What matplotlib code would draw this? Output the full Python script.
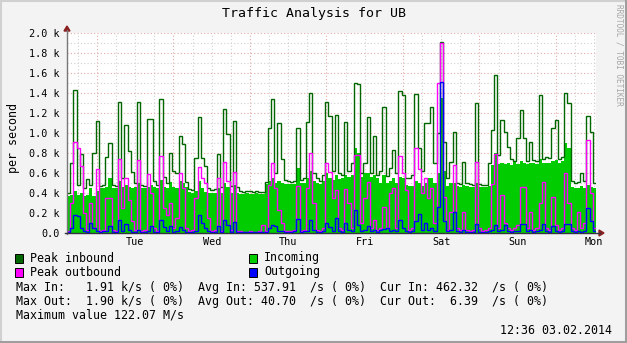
import matplotlib
matplotlib.use("Agg")
import matplotlib.pyplot as plt
import numpy as np
from matplotlib.patches import Rectangle, Polygon
from matplotlib.lines import Line2D

# ---------------------------------------------------------------------------
# Hourly samples (k/s), one week ending Monday 03.02.2014 12:36
# ---------------------------------------------------------------------------
peak_in = [
    0.40, 0.70, 1.43, 0.48, 0.79, 0.45, 0.54, 0.48, 0.80, 1.12,
    0.47, 0.48, 0.76, 0.90, 0.48, 0.47, 1.31, 0.55, 1.08, 0.82,
    0.61, 0.50, 1.31, 0.48, 0.47, 1.14, 1.14, 0.52, 0.48, 1.34,
    0.56, 0.50, 0.80, 0.62, 0.60, 0.97, 0.89, 0.51, 0.44, 0.43,
    0.75, 1.16, 0.75, 0.67, 0.45, 0.43, 0.44, 0.79, 0.46, 1.24,
    0.99, 0.47, 1.12, 0.46, 0.42, 0.41, 0.42, 0.42, 0.41, 0.42,
    0.41, 0.41, 0.51, 1.05, 1.34, 0.60, 1.10, 0.74, 0.53, 0.52,
    0.51, 0.52, 1.05, 0.53, 0.55, 1.11, 1.40, 0.60, 0.55, 0.52,
    0.58, 1.31, 1.17, 0.62, 1.18, 0.60, 0.58, 1.11, 0.62, 0.70,
    1.50, 1.49, 0.60, 0.70, 1.16, 0.60, 0.97, 0.58, 0.62, 1.26,
    0.57, 0.65, 0.83, 0.60, 1.42, 1.38, 0.55, 0.55, 0.58, 1.39,
    0.85, 0.62, 1.10, 1.10, 1.26, 0.70, 1.00, 1.91, 0.91, 0.55,
    0.71, 1.01, 0.50, 0.49, 0.71, 0.50, 0.49, 0.48, 1.30, 0.49,
    0.48, 0.48, 0.70, 1.03, 1.58, 0.78, 1.13, 1.01, 0.86, 0.74,
    0.72, 0.95, 1.23, 0.95, 0.72, 0.91, 0.73, 0.72, 1.38, 0.74,
    0.76, 0.75, 1.05, 1.13, 0.74, 0.76, 1.40, 1.30, 0.52, 0.50,
    0.51, 0.60, 0.52, 1.17, 1.01, 0.50,
]

incoming = [
    0.37, 0.38, 0.42, 0.38, 0.40, 0.37, 0.38, 0.45, 0.37, 0.42,
    0.45, 0.45, 0.46, 0.55, 0.45, 0.45, 0.52, 0.46, 0.48, 0.46,
    0.45, 0.46, 0.50, 0.45, 0.45, 0.46, 0.48, 0.46, 0.45, 0.53,
    0.46, 0.45, 0.51, 0.46, 0.45, 0.52, 0.50, 0.46, 0.41, 0.40,
    0.42, 0.52, 0.45, 0.41, 0.40, 0.40, 0.40, 0.45, 0.40, 0.50,
    0.46, 0.40, 0.48, 0.40, 0.39, 0.39, 0.40, 0.39, 0.39, 0.40,
    0.39, 0.39, 0.49, 0.52, 0.55, 0.50, 0.52, 0.50, 0.49, 0.49,
    0.49, 0.49, 0.65, 0.50, 0.50, 0.55, 0.62, 0.52, 0.50, 0.49,
    0.52, 0.60, 0.55, 0.53, 0.58, 0.54, 0.55, 0.58, 0.56, 0.58,
    0.85, 0.80, 0.56, 0.60, 0.60, 0.56, 0.58, 0.55, 0.50, 0.58,
    0.50, 0.52, 0.55, 0.50, 0.56, 0.55, 0.48, 0.47, 0.47, 0.52,
    0.50, 0.47, 0.50, 0.55, 0.55, 0.50, 0.60, 1.35, 0.62, 0.47,
    0.50, 0.50, 0.47, 0.46, 0.48, 0.47, 0.46, 0.46, 0.50, 0.46,
    0.46, 0.46, 0.47, 0.68, 0.80, 0.69, 0.70, 0.69, 0.70, 0.68,
    0.72, 0.69, 0.72, 0.70, 0.69, 0.70, 0.70, 0.69, 0.74, 0.70,
    0.70, 0.70, 0.72, 0.73, 0.70, 0.72, 0.90, 0.85, 0.46, 0.45,
    0.45, 0.47, 0.45, 0.48, 0.46, 0.45,
]

peak_out = [
    0.02, 0.30, 0.91, 0.85, 0.67, 0.20, 0.03, 0.30, 0.05, 0.64,
    0.02, 0.03, 0.35, 0.35, 0.03, 0.02, 0.74, 0.25, 0.55, 0.33,
    0.12, 0.03, 0.73, 0.02, 0.03, 0.59, 0.40, 0.05, 0.02, 0.77,
    0.25, 0.18, 0.30, 0.05, 0.15, 0.60, 0.45, 0.05, 0.02, 0.03,
    0.35, 0.66, 0.55, 0.50, 0.15, 0.02, 0.03, 0.55, 0.02, 0.71,
    0.52, 0.03, 0.61, 0.02, 0.02, 0.01, 0.01, 0.02, 0.01, 0.01,
    0.02, 0.08, 0.02, 0.48, 0.70, 0.45, 0.23, 0.10, 0.02, 0.02,
    0.02, 0.03, 0.47, 0.02, 0.03, 0.45, 0.80, 0.30, 0.03, 0.02,
    0.05, 0.70, 0.61, 0.35, 0.43, 0.05, 0.03, 0.44, 0.30, 0.05,
    0.78, 0.78, 0.10, 0.35, 0.51, 0.05, 0.13, 0.03, 0.05, 0.26,
    0.05, 0.40, 0.45, 0.05, 0.77, 0.60, 0.43, 0.03, 0.05, 0.85,
    0.64, 0.40, 0.55, 0.35, 0.45, 0.10, 1.50, 1.90, 0.36, 0.03,
    0.21, 0.68, 0.05, 0.03, 0.21, 0.03, 0.02, 0.03, 0.71, 0.05,
    0.02, 0.03, 0.05, 0.49, 0.79, 0.05, 0.38, 0.10, 0.05, 0.03,
    0.05, 0.08, 0.46, 0.46, 0.05, 0.21, 0.03, 0.05, 0.30, 0.51,
    0.05, 0.03, 0.36, 0.08, 0.03, 0.05, 0.60, 0.30, 0.05, 0.03,
    0.21, 0.05, 0.10, 0.93, 0.40, 0.05,
]

outgoing = [
    0.01, 0.05, 0.18, 0.17, 0.05, 0.02, 0.01, 0.10, 0.05, 0.02,
    0.01, 0.02, 0.02, 0.07, 0.01, 0.01, 0.13, 0.02, 0.09, 0.03,
    0.01, 0.01, 0.03, 0.01, 0.01, 0.02, 0.07, 0.01, 0.01, 0.13,
    0.06, 0.02, 0.07, 0.01, 0.02, 0.06, 0.03, 0.01, 0.01, 0.01,
    0.02, 0.18, 0.10, 0.05, 0.02, 0.01, 0.01, 0.07, 0.01, 0.13,
    0.08, 0.01, 0.11, 0.01, 0.01, 0.01, 0.01, 0.01, 0.01, 0.01,
    0.01, 0.01, 0.01, 0.05, 0.08, 0.07, 0.02, 0.02, 0.01, 0.01,
    0.01, 0.02, 0.14, 0.01, 0.02, 0.02, 0.13, 0.03, 0.01, 0.01,
    0.02, 0.10, 0.06, 0.02, 0.15, 0.02, 0.01, 0.10, 0.03, 0.02,
    0.23, 0.08, 0.02, 0.03, 0.07, 0.02, 0.03, 0.01, 0.03, 0.04,
    0.05, 0.02, 0.03, 0.02, 0.13, 0.05, 0.02, 0.01, 0.02, 0.12,
    0.19, 0.03, 0.10, 0.03, 0.05, 0.02, 0.26, 1.51, 0.12, 0.02,
    0.03, 0.21, 0.02, 0.01, 0.03, 0.01, 0.01, 0.01, 0.09, 0.01,
    0.01, 0.01, 0.02, 0.03, 0.08, 0.02, 0.03, 0.08, 0.02, 0.01,
    0.02, 0.02, 0.09, 0.09, 0.02, 0.03, 0.01, 0.02, 0.03, 0.09,
    0.02, 0.01, 0.07, 0.02, 0.01, 0.02, 0.09, 0.09, 0.02, 0.01,
    0.02, 0.01, 0.02, 0.25, 0.12, 0.02,
]

day_labels = ["Tue", "Wed", "Thu", "Fri", "Sat", "Sun", "Mon"]
y_tick_values = [0.0, 0.2, 0.4, 0.6, 0.8, 1.0, 1.2, 1.4, 1.6, 1.8, 2.0]
y_tick_labels = ["0.0"] + [f"{v:.1f} k" for v in y_tick_values[1:]]

legend_rows = [
    ("Peak inbound", "#006600", "Incoming", "#00CC00"),
    ("Peak outbound", "#FF00FF", "Outgoing", "#0000FF"),
]
stats_lines = [
    "Max In:   1.91 k/s ( 0%)  Avg In: 537.91  /s ( 0%)  Cur In: 462.32  /s ( 0%)",
    "Max Out:  1.90 k/s ( 0%)  Avg Out: 40.70  /s ( 0%)  Cur Out:  6.39  /s ( 0%)",
    "Maximum value 122.07 M/s",
]
timestamp = "12:36 03.02.2014"
title = "Traffic Analysis for UB"

# ---------------------------------------------------------------------------
W, H = 627, 343
MONO = "DejaVu Sans Mono"
fig = plt.figure(figsize=(W / 100, H / 100), dpi=100)
fig.patch.set_facecolor("#f3f3f3")


def fx(px):
    return px / W


def fy(py):
    return 1 - py / H


L, R, T, B = 67, 596, 33, 233
ax = fig.add_axes([fx(L), fy(B), fx(R) - fx(L), fy(T) - fy(B)])
ax.set_facecolor("white")
for s in ax.spines.values():
    s.set_visible(False)

n = len(peak_in)
edges = np.arange(n + 1)
ax.set_xlim(0, n)
ax.set_ylim(0, 2.0)

# time grid: midnight boundaries and 6-hour minor lines
hours_per_px = n / (R - L)
first_midnight = (97 - L) * hours_per_px
minor_x = np.arange(first_midnight - 6, n, 6)
for xv in minor_x:
    if 0 < xv < n:
        major = abs(((xv - first_midnight) / 24) - round((xv - first_midnight) / 24)) < 1e-6
        ax.axvline(xv, color="#e3a9a9" if major else "#d2d2d2",
                   lw=0.8, ls=(0, (1, 2)), zorder=1)
for yv in np.arange(0.1, 2.01, 0.1):
    major = int(round(yv * 10)) % 2 == 0
    ax.axhline(yv, color="#e3a9a9" if major else "#d2d2d2",
               lw=0.8, ls=(0, (1, 2)), zorder=1)

# data layers
ax.stairs(incoming, edges, fill=True, color="#00CC00", lw=0, zorder=2)
ax.stairs(peak_in, edges, color="#006600", lw=1.0, baseline=None, zorder=3)
ax.stairs(peak_out, edges, color="#FF00FF", lw=1.0, baseline=None, zorder=4)
ax.stairs(outgoing, edges, color="#0000FF", lw=1.0, baseline=None, zorder=5)

# ticks
noon = first_midnight + 12 + 24 * np.arange(len(day_labels))
ax.set_xticks(noon)
ax.set_xticklabels(day_labels, fontfamily=MONO, fontsize=7.3)
ax.set_yticks(y_tick_values)
ax.set_yticklabels(y_tick_labels, fontfamily=MONO, fontsize=7.3)
ax.tick_params(axis="both", length=0)
ax.tick_params(axis="y", pad=5)
ax.tick_params(axis="x", pad=3)

# axes with arrows
axis_col = "#777777"
arrow_col = "#8b1f1f"
fig.add_artist(Line2D([fx(L), fx(L)], [fy(B + 1), fy(30)], color=axis_col, lw=1.0))
fig.add_artist(Line2D([fx(L - 2), fx(600)], [fy(B), fy(B)], color="#333344", lw=1.0, zorder=6))
fig.add_artist(Polygon([[fx(L - 3), fy(31)], [fx(L + 3), fy(31)], [fx(L), fy(26)]],
                       closed=True, color=arrow_col, transform=fig.transFigure))
fig.add_artist(Polygon([[fx(599), fy(B - 3)], [fx(599), fy(B + 3)], [fx(604), fy(B)]],
                       closed=True, color=arrow_col, transform=fig.transFigure))

# title, unit label, watermark
fig.text(fx(313.5), fy(13), title, ha="center", va="center", fontfamily=MONO, fontsize=9.5)
fig.text(fx(13), fy(138), "per second", rotation=90, ha="center", va="center",
         fontfamily=MONO, fontsize=8.4)
fig.text(fx(619), fy(4), "RRDTOOL / TOBI OETIKER", rotation=270, ha="center", va="top",
         fontfamily=MONO, fontsize=5.6, color="#a6a6a6")

# legend
row_y = [258, 272]
for (lab1, c1, lab2, c2), yy in zip(legend_rows, row_y):
    for lab, c, xs in ((lab1, c1, 15), (lab2, c2, 249)):
        fig.add_artist(Rectangle((fx(xs), fy(yy + 5)), fx(8), 9 / H, facecolor=c,
                                 edgecolor="black", lw=0.7, transform=fig.transFigure))
        fig.text(fx(xs + 15), fy(yy), lab, ha="left", va="center",
                 fontfamily=MONO, fontsize=8.4)

for line, yy in zip(stats_lines, [287, 301, 315]):
    fig.text(fx(16), fy(yy), line, ha="left", va="center", fontfamily=MONO, fontsize=8.4)
fig.text(fx(612), fy(330), timestamp, ha="right", va="center", fontfamily=MONO, fontsize=8.4)

# frame shading
fig.add_artist(Line2D([0, 1], [fy(0.5), fy(0.5)], color="#d0d0d0", lw=1.5))
fig.add_artist(Line2D([fx(0.5), fx(0.5)], [0, 1], color="#d0d0d0", lw=1.5))
fig.add_artist(Line2D([0, 1], [fy(H - 1.5), fy(H - 1.5)], color="#9e9e9e", lw=2.2))
fig.add_artist(Line2D([fx(W - 1.5), fx(W - 1.5)], [0, 1], color="#9e9e9e", lw=2.2))

fig.savefig("out.png", dpi=100, facecolor=fig.get_facecolor())
